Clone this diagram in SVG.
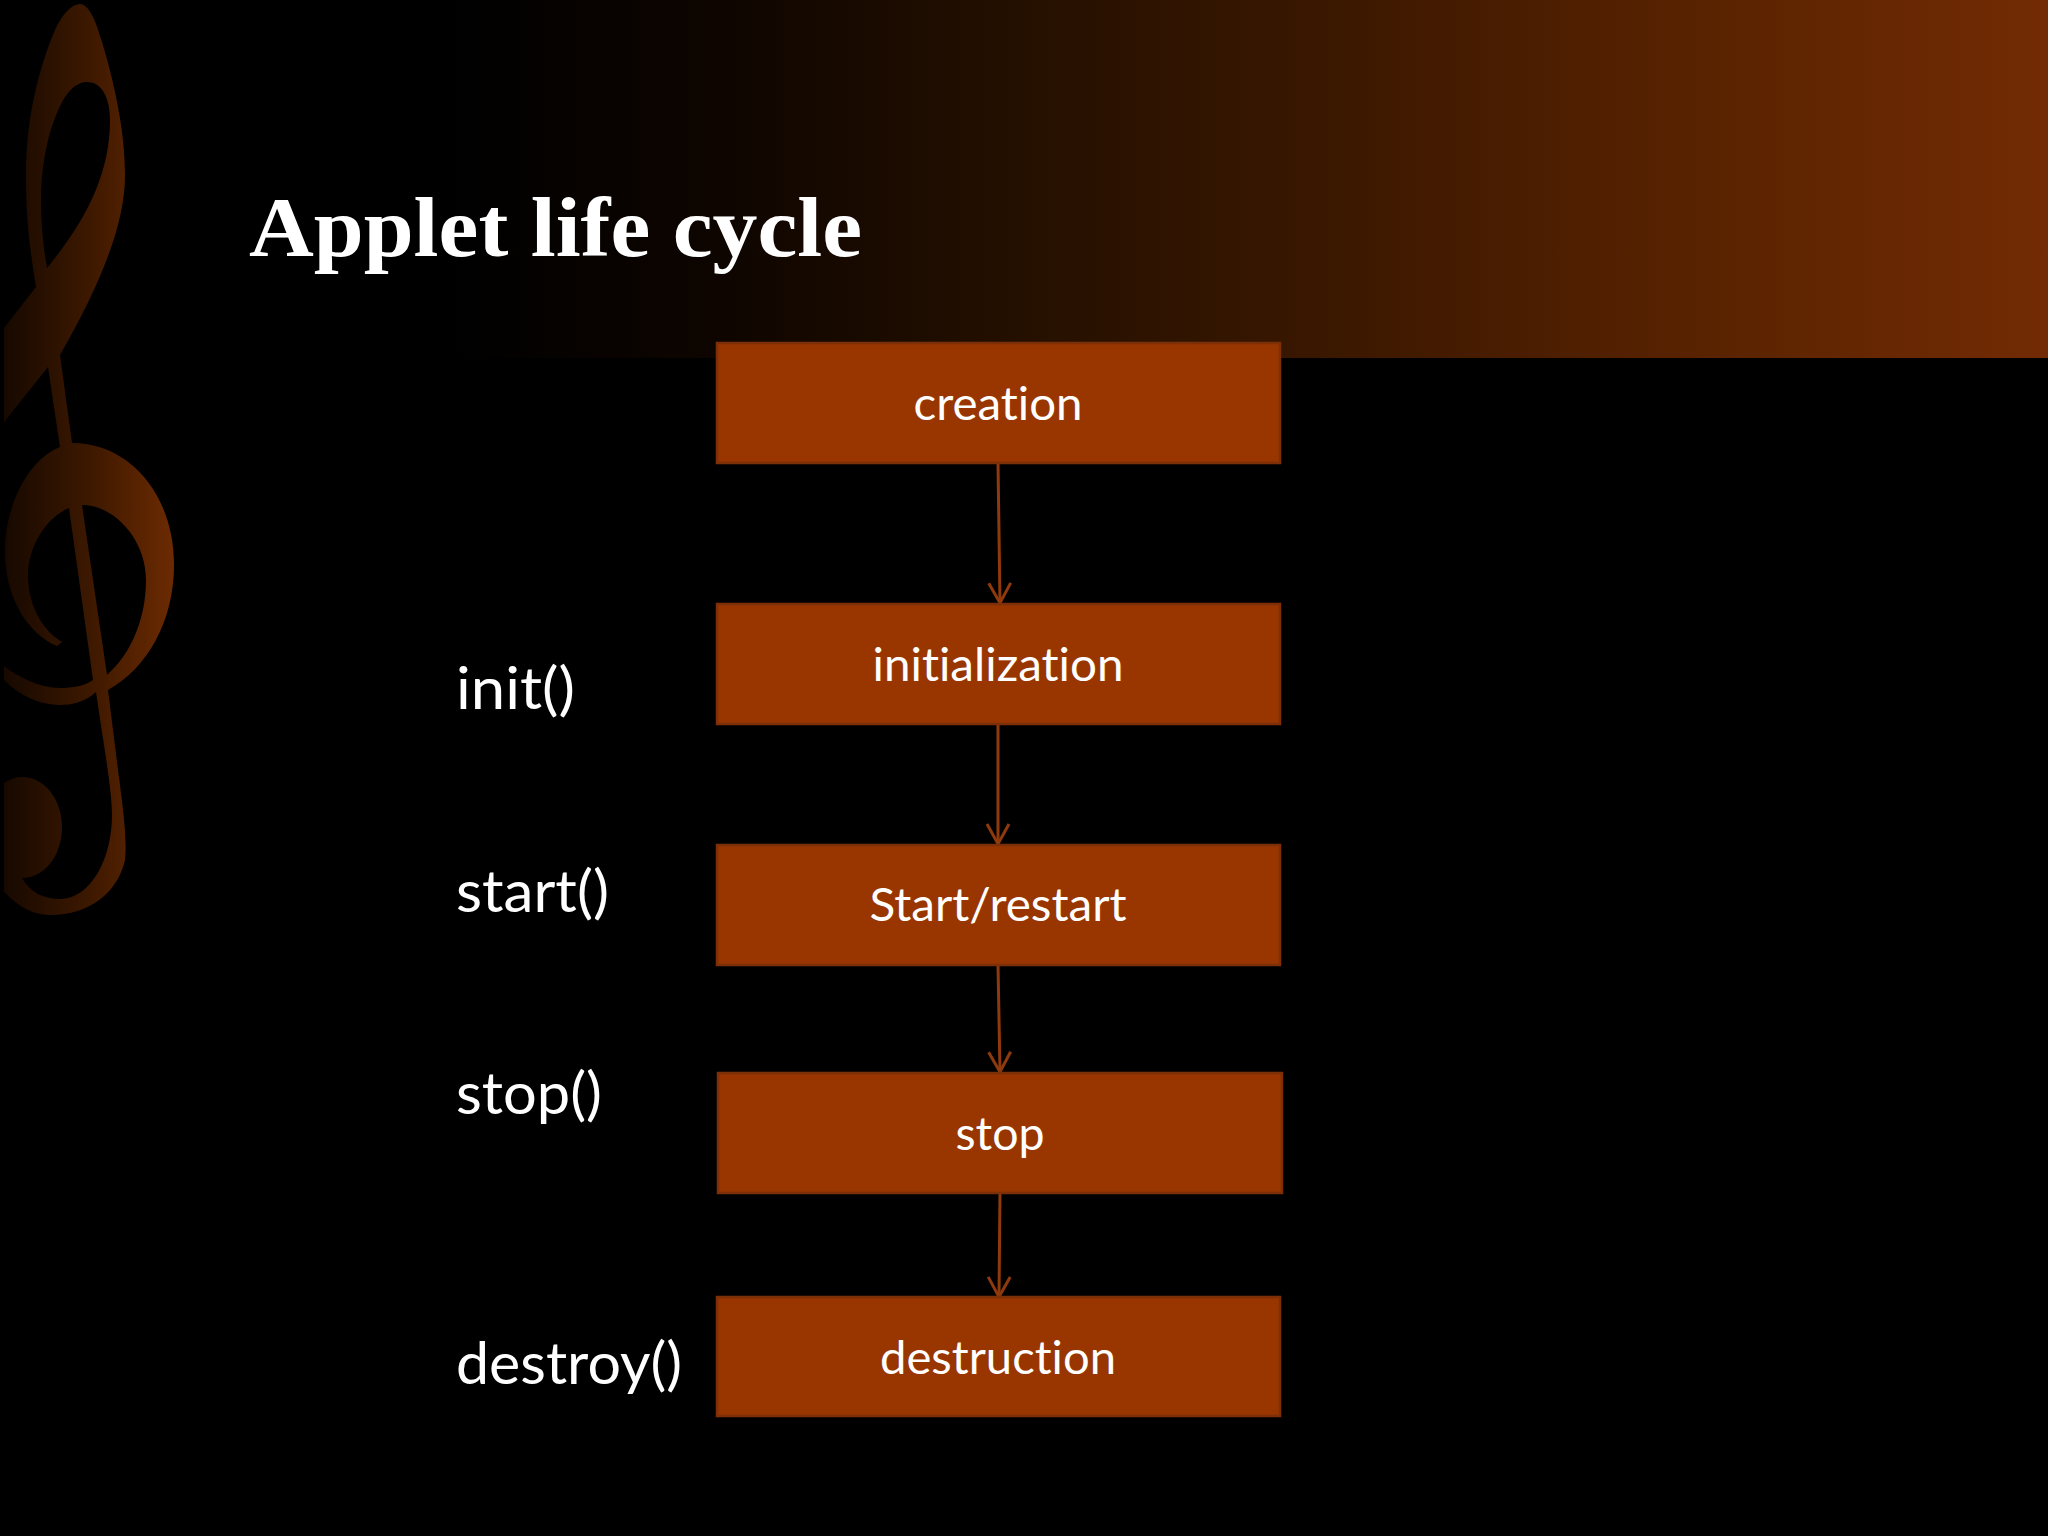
<svg xmlns="http://www.w3.org/2000/svg" width="2048" height="1536" viewBox="0 0 2048 1536">
<style>
.box{fill:#993600;stroke:#7d2f08;stroke-width:2.5}
.lbl{font-family:"Lato","Noto Sans",sans-serif;font-size:46px;fill:#fff;text-anchor:middle;font-variant-ligatures:none}
.side{font-family:"Lato","Noto Sans",sans-serif;font-size:58px;fill:#fff;font-variant-ligatures:none}
.conn{fill:none;stroke:#8f3a0c;stroke-width:3;marker-end:url(#open)}
</style>
<defs>
<linearGradient id="band" x1="0" x2="2048" y1="0" y2="0" gradientUnits="userSpaceOnUse">
<stop offset="0" stop-color="#000"/><stop offset="0.22" stop-color="#000"/><stop offset="0.35" stop-color="#0e0500"/><stop offset="0.503" stop-color="#251000"/><stop offset="0.657" stop-color="#3c1800"/><stop offset="0.837" stop-color="#5a2300"/><stop offset="1" stop-color="#722b04"/>
</linearGradient>
<linearGradient id="clef" x1="0" x2="176" y1="0" y2="0" gradientUnits="userSpaceOnUse">
<stop offset="0" stop-color="#150800"/><stop offset="0.5" stop-color="#3c1800"/><stop offset="1" stop-color="#6d2b02"/>
</linearGradient>
<marker id="open" markerUnits="userSpaceOnUse" markerWidth="30" markerHeight="30" refX="24" refY="15" orient="auto" overflow="visible">
<path d="M4 4 L24 15 L4 26" fill="none" stroke="#8f3a0c" stroke-width="3"/>
</marker>
</defs>
<rect id="background" width="2048" height="1536" fill="#000"/>
<rect id="band-top" width="2048" height="358" fill="url(#band)"/>
<g id="clef-shape" fill="url(#clef)" fill-rule="evenodd">
<path d="M80 4 C90 5 96 22 102 42 C114 82 125 130 125 175 C125 225 100 285 60 355 L72 443 C130 443 174 495 174 565 C174 620 148 668 108 690 L118 770 C124 815 127 840 125 860 C118 892 90 915 50 915 C30 915 15 903 4 892 L4 783 C12 778 17 777 22 777 C45 777 62 800 62 827 C62 855 45 878 22 878 C30 893 45 899 60 899 C90 899 112 860 112 815 C112 790 103 740 96 692 C85 702 72 705 60 705 C40 705 20 696 4 680 L4 666 C20 678 40 688 60 688 C72 688 85 686 93 680 L69 508 C45 518 28 548 28 575 C28 605 42 630 62 642 L57 646 C30 635 5 600 5 552 C5 505 28 460 60 447 L48 367 L4 422 L4 328 L36 287 C30 250 26 220 26 175 C26 120 38 70 55 30 C62 14 72 4 80 4 Z M47 268 C43 245 41 225 41 200 C41 160 50 125 62 102 C70 88 78 82 87 82 C102 82 110 98 110 120 C110 175 85 222 47 268 Z M82 505 C115 505 146 540 146 580 C146 620 130 655 107 675 Z"/>
</g>
<text id="title" x="249" y="256" font-family="Liberation Serif,serif" font-weight="700" font-size="84" fill="#fff" textLength="613" lengthAdjust="spacingAndGlyphs">Applet life cycle</text>
<g id="connectors">
<path class="conn" d="M998 463 L1000 603"/>
<path class="conn" d="M998 723 L998 844"/>
<path class="conn" d="M998 965 L1000 1072"/>
<path class="conn" d="M1000 1192 L999 1297"/>
</g>
<g id="creation"><rect class="box" x="717" y="343" width="563" height="120"/><text class="lbl" x="998" y="420" textLength="169" lengthAdjust="spacingAndGlyphs">creation</text></g>
<g id="initialization"><rect class="box" x="717" y="604" width="563" height="120"/><text class="lbl" x="998" y="681" textLength="251" lengthAdjust="spacingAndGlyphs">initialization</text></g>
<g id="start-restart"><rect class="box" x="717" y="845" width="563" height="120"/><text class="lbl" x="998" y="921" textLength="257" lengthAdjust="spacingAndGlyphs">Start/restart</text></g>
<g id="stop"><rect class="box" x="718" y="1073" width="564" height="120"/><text class="lbl" x="1000" y="1150" textLength="89" lengthAdjust="spacingAndGlyphs">stop</text></g>
<g id="destruction"><rect class="box" x="717" y="1297" width="563" height="119"/><text class="lbl" x="998" y="1374" textLength="236" lengthAdjust="spacingAndGlyphs">destruction</text></g>
<text id="m-init" class="side" x="456" y="709" textLength="119" lengthAdjust="spacingAndGlyphs">init()</text>
<text id="m-start" class="side" x="456" y="912" textLength="153" lengthAdjust="spacingAndGlyphs">start()</text>
<text id="m-stop" class="side" x="456" y="1114" textLength="146" lengthAdjust="spacingAndGlyphs">stop()</text>
<text id="m-destroy" class="side" x="456" y="1384" textLength="226" lengthAdjust="spacingAndGlyphs">destroy()</text>
</svg>
